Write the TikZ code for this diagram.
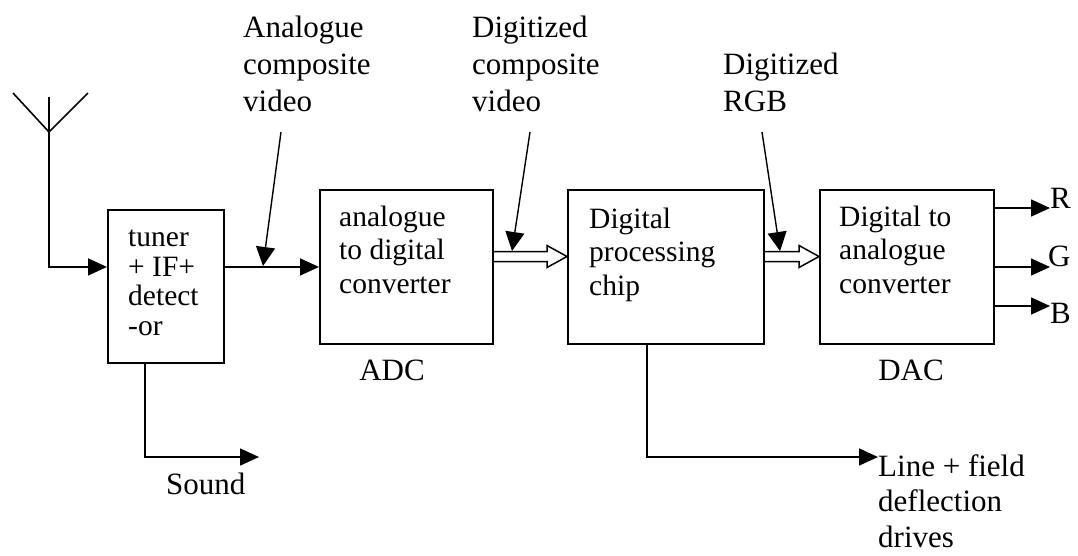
\documentclass[tikz,border=0pt]{standalone}
\usepackage{fontspec}
\setmainfont{Liberation Serif}
\usetikzlibrary{arrows.meta,calc}
\begin{document}
\begin{tikzpicture}[x=1pt,y=-1pt,
  blk/.style={draw, line width=1.9pt, anchor=north west, inner sep=0pt},
  ln/.style={line width=1.6pt},
  tri/.style={ln, -{Triangle[length=19pt,width=17pt]}},
  ptr/.style={line width=1.4pt, -{Triangle[length=19pt,width=19pt]}},
  hollow/.style={line width=1.5pt, line join=miter},
  boxtxt/.style={anchor=base west, inner sep=0pt, align=left, font=\fontsize{29.5}{33.5}\selectfont},
  lbl/.style={anchor=base west, inner sep=0pt, align=left, font=\fontsize{31}{37}\selectfont}
]
\useasboundingbox (0,0) rectangle (1078,555);
% boxes
\node[blk, minimum width=116pt, minimum height=153pt] (tuner) at (107,209) {};
\node[blk, minimum width=173pt, minimum height=154pt] (adc) at (319,189) {};
\node[blk, minimum width=196pt, minimum height=154pt] (chip) at (567,189) {};
\node[blk, minimum width=174pt, minimum height=154pt] (dac) at (819,189) {};
% box texts (anchored at the baseline of the last line)
\node[boxtxt, font=\fontsize{29.5}{29.5}\selectfont] (tunert) at (128,335) {tuner\\+ IF+\\detect\\-or};
\node[boxtxt] (adct) at (339,293) {analogue\\to digital\\converter};
\node[boxtxt] (chipt) at (589,295) {Digital\\processing\\chip};
\node[boxtxt] (dact) at (839,293) {Digital to\\analogue\\converter};
% captions
\node[lbl, anchor=base] (adcl) at (392,380) {ADC};
\node[lbl, anchor=base] (dacl) at (911,380) {DAC};
\node[lbl] (l1) at (243,111) {Analogue\\composite\\video};
\node[lbl] (l2) at (472,111) {Digitized\\composite\\video};
\node[lbl] (l3) at (723,111) {Digitized\\RGB};
\node[lbl] (snd) at (166,494) {Sound};
\node[lbl, font=\fontsize{31}{35.5}\selectfont] (defl) at (878,547) {Line + field\\deflection\\drives};
\node[lbl] (rl) at (1050,208) {R};
\node[lbl] (gl) at (1048,266) {G};
\node[lbl] (bl) at (1050,323) {B};
% antenna
\coordinate (antv) at (49,132);
\coordinate (anttop) at (49,97);
\coordinate (antl) at (13,93);
\coordinate (antr) at (88,93);
\draw[ln] (antl) -- (antv) -- (antr);
\draw[ln] (anttop) -- (antv);
\draw[tri] (antv) |- (tuner.west |- adc.west);
% tuner -> adc
\draw[tri] (tuner.east |- adc.west) -- (adc.west);
% hollow double arrows
\coordinate (dy) at (0,256.5);
\newcommand\hollowarrow[2]{%
  \draw[hollow] ($(#1)+(0,-5)$) -- ($(#2)+(-20,-5)$) -- ($(#2)+(-20,-11)$) -- (#2)
     -- ($(#2)+(-20,11)$) -- ($(#2)+(-20,5)$) -- ($(#1)+(0,5)$);}
\hollowarrow{adc.east |- dy}{chip.west |- dy}
\hollowarrow{chip.east |- dy}{dac.west |- dy}
% pointer arrows
\coordinate (p1s) at (281,132); \coordinate (p1e) at (263,266);
\coordinate (p2s) at (530,132); \coordinate (p2e) at (512,251);
\coordinate (p3s) at (762,132); \coordinate (p3e) at (780,251);
\draw[ptr] (p1s) -- (p1e);
\draw[ptr] (p2s) -- (p2e);
\draw[ptr] (p3s) -- (p3e);
% RGB outputs
\coordinate (re) at (1050,208);
\coordinate (ge) at (1050,267);
\coordinate (be) at (1050,306);
\draw[tri] (dac.east |- re) -- (re);
\draw[tri] (dac.east |- ge) -- (ge);
\draw[tri] (dac.east |- be) -- (be);
% sound
\coordinate (se) at (259,457);
\draw[tri] (tuner.south -| 145,0) |- (se);
% deflection
\coordinate (de) at (878,457);
\draw[tri] (chip.south -| 647,0) |- (de);
\end{tikzpicture}
\end{document}
